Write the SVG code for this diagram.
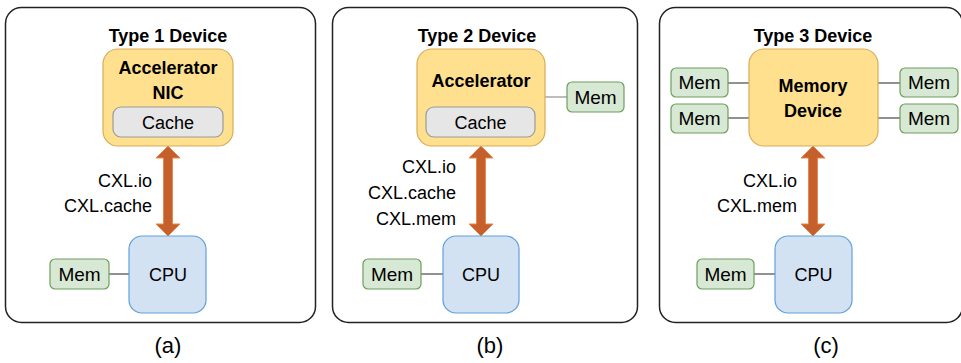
<svg xmlns="http://www.w3.org/2000/svg" xmlns:xlink="http://www.w3.org/1999/xlink" width="961" height="363" viewBox="0 0 961 363">
<style>
text{font-family:"Liberation Sans",Arial,sans-serif;fill:#000}
.frame{fill:#fff;stroke:#222;stroke-width:1.5}
.title{font-size:18px;font-weight:bold;text-anchor:middle}
.dev{fill:#FFE08F;stroke:#D9AC58;stroke-width:1.2}
.devt{font-size:18px;font-weight:bold;text-anchor:middle}
.cache{fill:#E6E6E6;stroke:#9A9A9A;stroke-width:1.2}
.cpu{fill:#D3E2F2;stroke:#5FA0DC;stroke-width:1.2}
.mem{fill:#D7E9D4;stroke:#6E9E5A;stroke-width:1.2}
.lbl{font-size:18px;text-anchor:middle}
.memt{font-size:19px;text-anchor:middle}
.cxl{font-size:18px;text-anchor:end}
.cap{font-size:22px;text-anchor:middle}
.wire{stroke:#555;stroke-width:1.3;fill:none}
.wire2{stroke:#999;stroke-width:1.3;fill:none}
.arrow{fill:#C55F2C;stroke:#E8874E;stroke-width:1}
</style>
<defs>
<path id="dbl" d="M0,0 L12,12 L4.5,12 L4.5,78 L12,78 L0,90 L-12,78 L-4.5,78 L-4.5,12 L-12,12 Z"/>
</defs>

<g id="frame-a"><rect class="frame" x="5.5" y="7.5" width="310" height="315" rx="16"/></g>
<g id="frame-b"><rect class="frame" x="332.5" y="7.5" width="305" height="315" rx="16"/></g>
<g id="frame-c"><rect class="frame" x="659.5" y="7.5" width="303" height="315" rx="16"/></g>

<g id="connectors">
<line class="wire" x1="109" y1="274" x2="129" y2="274"/>
<line class="wire2" x1="545" y1="97" x2="567" y2="97"/>
<line class="wire" x1="421" y1="274" x2="443" y2="274"/>
<line class="wire" x1="728" y1="83" x2="749" y2="83"/>
<line class="wire" x1="728" y1="118" x2="749" y2="118"/>
<line class="wire" x1="878" y1="83" x2="900" y2="83"/>
<line class="wire" x1="878" y1="118" x2="900" y2="118"/>
<line class="wire" x1="754" y1="274" x2="775" y2="274"/>
<use xlink:href="#dbl" class="arrow" x="168" y="146"/>
<use xlink:href="#dbl" class="arrow" x="481" y="146"/>
<use xlink:href="#dbl" class="arrow" x="813" y="146"/>
</g>

<!-- Panel (a) -->
<text class="title" x="168" y="42">Type 1 Device</text>
<g id="accel-a">
<rect class="dev" x="103" y="49" width="130" height="97" rx="15"/>
<text class="devt" x="168" y="74">Accelerator</text>
<text class="devt" x="168" y="99">NIC</text>
</g>
<g id="cache-a">
<rect class="cache" x="113" y="107" width="110" height="30" rx="8"/>
<text class="lbl" x="168" y="129">Cache</text>
</g>
<g id="cpu-a">
<rect class="cpu" x="129" y="236" width="77" height="77" rx="13"/>
<text class="lbl" x="168" y="281">CPU</text>
</g>
<g id="mem-a">
<rect class="mem" x="50" y="259" width="59" height="30" rx="5"/>
<text class="memt" x="79.5" y="281">Mem</text>
</g>
<text class="cxl" x="152" y="187">CXL.io</text>
<text class="cxl" x="152" y="212">CXL.cache</text>
<text class="cap" x="168" y="353">(a)</text>

<!-- Panel (b) -->
<text class="title" x="477" y="42">Type 2 Device</text>
<g id="accel-b">
<rect class="dev" x="417" y="49" width="128" height="97" rx="15"/>
<text class="devt" x="481" y="87">Accelerator</text>
</g>
<g id="cache-b">
<rect class="cache" x="426" y="107" width="109" height="30" rx="8"/>
<text class="lbl" x="480.5" y="129">Cache</text>
</g>
<g id="mem-b-dev">
<rect class="mem" x="567" y="82" width="57" height="30" rx="5"/>
<text class="memt" x="595.5" y="104">Mem</text>
</g>
<g id="cpu-b">
<rect class="cpu" x="443" y="236" width="76" height="77" rx="13"/>
<text class="lbl" x="481" y="281">CPU</text>
</g>
<g id="mem-b">
<rect class="mem" x="363" y="259" width="58" height="30" rx="5"/>
<text class="memt" x="392" y="281">Mem</text>
</g>
<text class="cxl" x="456" y="173">CXL.io</text>
<text class="cxl" x="456" y="199">CXL.cache</text>
<text class="cxl" x="456" y="225">CXL.mem</text>
<text class="cap" x="490" y="353">(b)</text>

<!-- Panel (c) -->
<text class="title" x="813" y="42">Type 3 Device</text>
<g id="memdev-c">
<rect class="dev" x="749" y="49" width="129" height="97" rx="15"/>
<text class="devt" x="813" y="92">Memory</text>
<text class="devt" x="813" y="117">Device</text>
</g>
<g id="mem-c-l1">
<rect class="mem" x="671" y="68" width="57" height="29" rx="5"/>
<text class="memt" x="699.5" y="89">Mem</text>
</g>
<g id="mem-c-l2">
<rect class="mem" x="671" y="104" width="57" height="29" rx="5"/>
<text class="memt" x="699.5" y="125">Mem</text>
</g>
<g id="mem-c-r1">
<rect class="mem" x="900" y="68" width="58" height="29" rx="5"/>
<text class="memt" x="929" y="89">Mem</text>
</g>
<g id="mem-c-r2">
<rect class="mem" x="900" y="104" width="58" height="29" rx="5"/>
<text class="memt" x="929" y="125">Mem</text>
</g>
<g id="cpu-c">
<rect class="cpu" x="775" y="236" width="77" height="77" rx="13"/>
<text class="lbl" x="813.5" y="281">CPU</text>
</g>
<g id="mem-c">
<rect class="mem" x="697" y="259" width="57" height="30" rx="5"/>
<text class="memt" x="725.5" y="281">Mem</text>
</g>
<text class="cxl" x="797" y="187">CXL.io</text>
<text class="cxl" x="797" y="212">CXL.mem</text>
<text class="cap" x="826" y="353">(c)</text>
</svg>
